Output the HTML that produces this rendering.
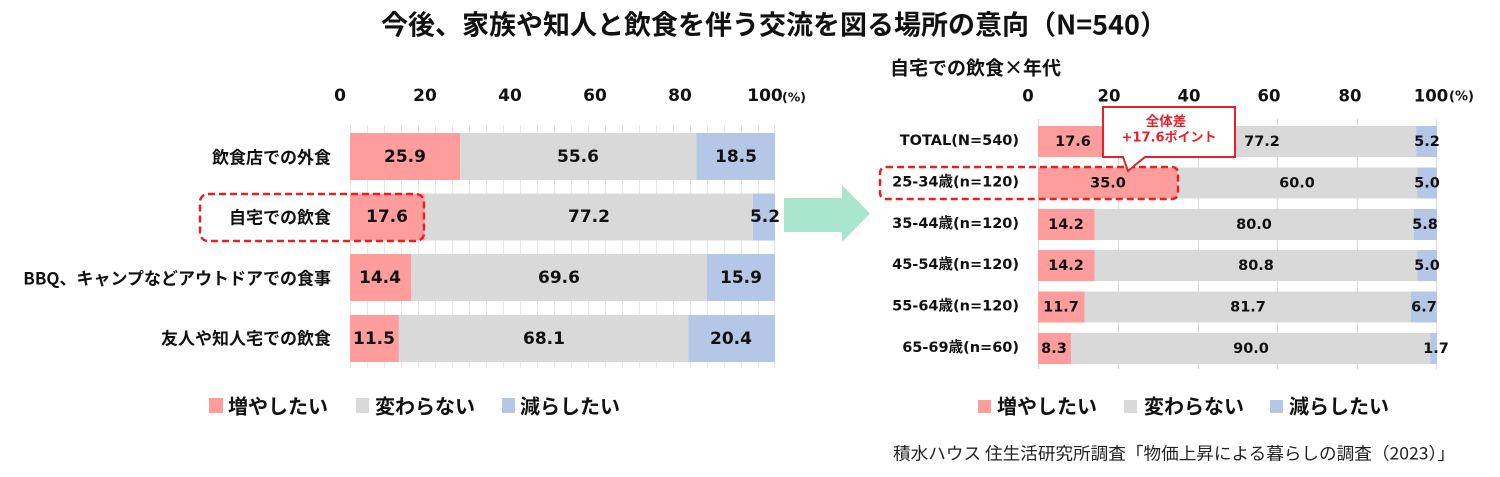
<!DOCTYPE html>
<html><head><meta charset="utf-8">
<style>
html,body{margin:0;padding:0;background:#fff;}
svg{display:block;}
.t{font-family:"Liberation Sans","Noto Sans CJK JP",sans-serif;font-weight:bold;}
.n{font-family:"DejaVu Sans","Noto Sans CJK JP",sans-serif;font-weight:bold;fill:#111;}
.j{font-family:"Noto Sans CJK JP","DejaVu Sans",sans-serif;font-weight:bold;fill:#111;}
.s{font-family:"Noto Sans CJK JP","Liberation Sans",sans-serif;font-weight:normal;fill:#222;}
</style></head>
<body>
<svg width="1500" height="477" viewBox="0 0 1500 477" xmlns="http://www.w3.org/2000/svg">
<rect width="1500" height="477" fill="#fff"/>
<!-- Title -->
<text x="774" y="23" class="j" font-size="27" text-anchor="middle" dominant-baseline="central">今後、家族や知人と飲食を伴う交流を図る場所の意向（N=540）</text>

<!-- LEFT CHART -->
<g stroke="#E6E6E6" stroke-width="1">
<line x1="350.5" y1="125" x2="350.5" y2="368"/><line x1="367.5" y1="125" x2="367.5" y2="368"/><line x1="384.5" y1="125" x2="384.5" y2="368"/><line x1="401.5" y1="125" x2="401.5" y2="368"/><line x1="418.5" y1="125" x2="418.5" y2="368"/><line x1="435.5" y1="125" x2="435.5" y2="368"/><line x1="452.5" y1="125" x2="452.5" y2="368"/><line x1="469.5" y1="125" x2="469.5" y2="368"/><line x1="486.5" y1="125" x2="486.5" y2="368"/><line x1="503.5" y1="125" x2="503.5" y2="368"/><line x1="520.5" y1="125" x2="520.5" y2="368"/><line x1="537.5" y1="125" x2="537.5" y2="368"/><line x1="554.5" y1="125" x2="554.5" y2="368"/><line x1="571.5" y1="125" x2="571.5" y2="368"/><line x1="588.5" y1="125" x2="588.5" y2="368"/><line x1="605.5" y1="125" x2="605.5" y2="368"/><line x1="622.5" y1="125" x2="622.5" y2="368"/><line x1="639.5" y1="125" x2="639.5" y2="368"/><line x1="656.5" y1="125" x2="656.5" y2="368"/><line x1="673.5" y1="125" x2="673.5" y2="368"/><line x1="690.5" y1="125" x2="690.5" y2="368"/><line x1="707.5" y1="125" x2="707.5" y2="368"/><line x1="724.5" y1="125" x2="724.5" y2="368"/><line x1="741.5" y1="125" x2="741.5" y2="368"/><line x1="758.5" y1="125" x2="758.5" y2="368"/><line x1="774.5" y1="125" x2="774.5" y2="368"/>
</g>
<!-- left ticks -->
<g class="n" font-size="17" text-anchor="middle" dominant-baseline="central">
<text x="340" y="96">0</text><text x="425" y="96">20</text><text x="510" y="96">40</text><text x="595" y="96">60</text><text x="680" y="96">80</text><text x="765" y="96">100</text>
</g>
<text x="782" y="97" class="n" font-size="12.5" dominant-baseline="central">(%)</text>

<!-- left bars -->
<rect x="350" y="133" width="110.1" height="47" fill="#FF9C9C"/>
<rect x="460.1" y="133" width="236.3" height="47" fill="#D9D9D9"/>
<rect x="696.4" y="133" width="78.6" height="47" fill="#B4C7E7"/>

<rect x="350" y="193.5" width="74.8" height="47" fill="#FF9C9C"/>
<rect x="424.8" y="193.5" width="328.1" height="47" fill="#D9D9D9"/>
<rect x="752.9" y="193.5" width="22.1" height="47" fill="#B4C7E7"/>

<rect x="350" y="254" width="61.2" height="47" fill="#FF9C9C"/>
<rect x="411.2" y="254" width="295.8" height="47" fill="#D9D9D9"/>
<rect x="707" y="254" width="68" height="47" fill="#B4C7E7"/>

<rect x="350" y="315" width="48.9" height="47" fill="#FF9C9C"/>
<rect x="398.9" y="315" width="289.4" height="47" fill="#D9D9D9"/>
<rect x="688.3" y="315" width="86.7" height="47" fill="#B4C7E7"/>

<g class="n" font-size="17" text-anchor="middle" dominant-baseline="central">
<text x="405" y="157">25.9</text><text x="578" y="157">55.6</text><text x="736" y="157">18.5</text>
<text x="387" y="217">17.6</text><text x="589" y="217">77.2</text><text x="765" y="217">5.2</text>
<text x="380" y="278">14.4</text><text x="559" y="278">69.6</text><text x="741" y="278">15.9</text>
<text x="374" y="339">11.5</text><text x="544" y="339">68.1</text><text x="731" y="339">20.4</text>
</g>
<g class="j" font-size="17" text-anchor="end" dominant-baseline="central">
<text x="331" y="156">飲食店での外食</text>
<text x="331" y="216">自宅での飲食</text>
<text x="331" y="277">BBQ、キャンプなどアウトドアでの食事</text>
<text x="331" y="337">友人や知人宅での飲食</text>
</g>
<rect x="200" y="194" width="224" height="47" rx="8" ry="8" fill="none" stroke="#E52222" stroke-width="2.5" stroke-dasharray="7 4"/>

<!-- left legend -->
<rect x="209" y="398" width="14" height="15" fill="#FF9C9C"/>
<text x="228" y="405" class="j" font-size="20" dominant-baseline="central">増やしたい</text>
<rect x="356" y="398" width="13" height="15" fill="#D9D9D9"/>
<text x="375" y="405" class="j" font-size="20" dominant-baseline="central">変わらない</text>
<rect x="502" y="398" width="13" height="15" fill="#B4C7E7"/>
<text x="520" y="405" class="j" font-size="20" dominant-baseline="central">減らしたい</text>

<!-- arrow -->
<path d="M784,198 H842 V185 L870,213.5 L842,242 V232 H784 Z" fill="#A9E5CF"/>

<!-- RIGHT CHART -->
<text x="890" y="67" class="j" font-size="19" dominant-baseline="central">自宅での飲食×年代</text>
<g stroke="#D9D9D9" stroke-width="1">
<line x1="1038.5" y1="119" x2="1038.5" y2="369"/><line x1="1118.5" y1="119" x2="1118.5" y2="369"/><line x1="1198.5" y1="119" x2="1198.5" y2="369"/><line x1="1277.5" y1="119" x2="1277.5" y2="369"/><line x1="1357.5" y1="119" x2="1357.5" y2="369"/><line x1="1436.5" y1="119" x2="1436.5" y2="369"/>
</g>
<g class="n" font-size="16.5" text-anchor="middle" dominant-baseline="central">
<text x="1028" y="96">0</text><text x="1109" y="96">20</text><text x="1189" y="96">40</text><text x="1269" y="96">60</text><text x="1350" y="96">80</text><text x="1431" y="96">100</text>
</g>
<text x="1449" y="97" class="n" font-size="13" dominant-baseline="central">(%)</text>

<!-- right bars -->
<rect x="1038" y="126" width="70.2" height="31" fill="#FF9C9C"/>
<rect x="1108.2" y="126" width="308" height="31" fill="#D9D9D9"/>
<rect x="1416.2" y="126" width="20.8" height="31" fill="#B4C7E7"/>

<rect x="1038" y="167.5" width="139.7" height="31" fill="#FF9C9C"/>
<rect x="1177.7" y="167.5" width="239.4" height="31" fill="#D9D9D9"/>
<rect x="1417.1" y="167.5" width="19.9" height="31" fill="#B4C7E7"/>

<rect x="1038" y="209" width="56.7" height="31" fill="#FF9C9C"/>
<rect x="1094.7" y="209" width="319.2" height="31" fill="#D9D9D9"/>
<rect x="1413.9" y="209" width="23.1" height="31" fill="#B4C7E7"/>

<rect x="1038" y="250" width="56.7" height="31" fill="#FF9C9C"/>
<rect x="1094.7" y="250" width="322.4" height="31" fill="#D9D9D9"/>
<rect x="1417.1" y="250" width="19.9" height="31" fill="#B4C7E7"/>

<rect x="1038" y="291.5" width="46.7" height="31" fill="#FF9C9C"/>
<rect x="1084.7" y="291.5" width="326" height="31" fill="#D9D9D9"/>
<rect x="1410.7" y="291.5" width="26.3" height="31" fill="#B4C7E7"/>

<rect x="1038" y="333" width="33.1" height="31" fill="#FF9C9C"/>
<rect x="1071.1" y="333" width="359.1" height="31" fill="#D9D9D9"/>
<rect x="1430.2" y="333" width="6.8" height="31" fill="#B4C7E7"/>

<g class="n" font-size="14.5" text-anchor="middle" dominant-baseline="central">
<text x="1073" y="142">17.6</text><text x="1262" y="142">77.2</text><text x="1427" y="142">5.2</text>
<text x="1108" y="183.5">35.0</text><text x="1297" y="183.5">60.0</text><text x="1427" y="183.5">5.0</text>
<text x="1066" y="225">14.2</text><text x="1254" y="225">80.0</text><text x="1425" y="225">5.8</text>
<text x="1066" y="266">14.2</text><text x="1256" y="266">80.8</text><text x="1427" y="266">5.0</text>
<text x="1061" y="307.5">11.7</text><text x="1248" y="307.5">81.7</text><text x="1424" y="307.5">6.7</text>
<text x="1054" y="349">8.3</text><text x="1251" y="349">90.0</text><text x="1436" y="349">1.7</text>
</g>
<g class="n" font-size="14.5" text-anchor="end" dominant-baseline="central">
<text x="1019" y="141">TOTAL(N=540)</text>
<text x="1019" y="182.5">25-34歳(n=120)</text>
<text x="1019" y="224">35-44歳(n=120)</text>
<text x="1019" y="265">45-54歳(n=120)</text>
<text x="1019" y="306.5">55-64歳(n=120)</text>
<text x="1019" y="348">65-69歳(n=60)</text>
</g>
<rect x="880" y="167" width="298" height="32" rx="6" ry="6" fill="none" stroke="#E52222" stroke-width="2.5" stroke-dasharray="7 4"/>

<!-- callout -->
<path d="M1103,107 H1235 V157 H1145 L1128,171 L1123,157 H1103 Z" fill="#fff" stroke="#E8202A" stroke-width="2"/>
<text x="1166" y="120" class="j" font-size="13.5" text-anchor="middle" dominant-baseline="central" style="fill:#E8202A">全体差</text>
<text x="1169" y="138" class="n" font-size="13" text-anchor="middle" dominant-baseline="central" style="fill:#E8202A">+17.6ポイント</text>

<!-- right legend -->
<rect x="978" y="400" width="13" height="13" fill="#FF9C9C"/>
<text x="997" y="405" class="j" font-size="20" dominant-baseline="central">増やしたい</text>
<rect x="1124" y="400" width="13" height="13" fill="#D9D9D9"/>
<text x="1144" y="405" class="j" font-size="20" dominant-baseline="central">変わらない</text>
<rect x="1270" y="400" width="13" height="13" fill="#B4C7E7"/>
<text x="1289" y="405" class="j" font-size="20" dominant-baseline="central">減らしたい</text>

<!-- source -->
<text x="893" y="452" class="s" font-size="17" dominant-baseline="central" textLength="562" lengthAdjust="spacingAndGlyphs">積水ハウス 住生活研究所調査「物価上昇による暮らしの調査（2023）」</text>
</svg>
</body></html>
